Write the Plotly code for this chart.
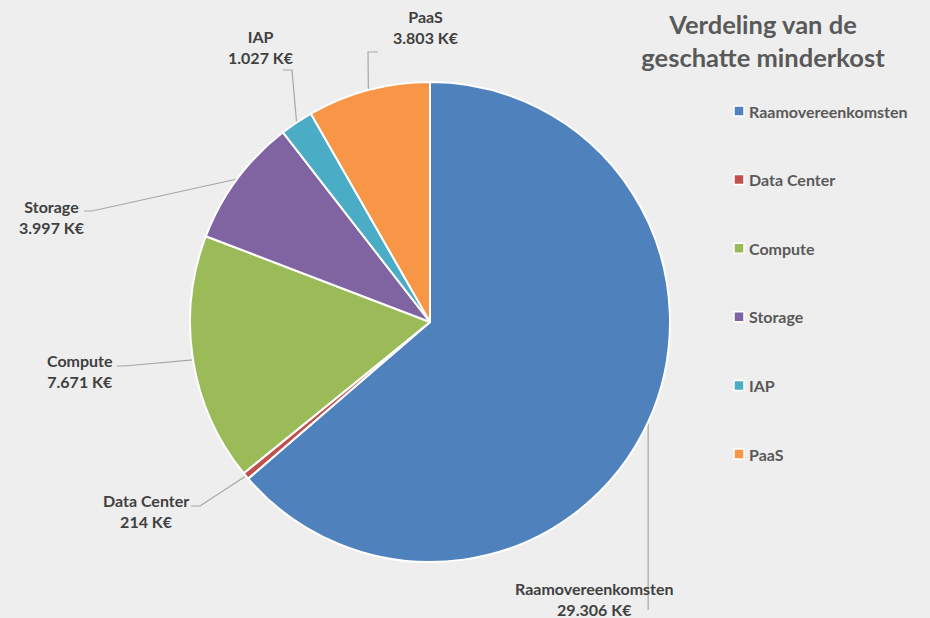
import math
import plotly.graph_objects as go

# Estimated savings per category (K€)
categories = ["Raamovereenkomsten", "Data Center", "Compute", "Storage", "IAP", "PaaS"]
values = [29306, 214, 7671, 3997, 1027, 3803]
colors = ["#4F81BD", "#C0504D", "#9BBB59", "#8064A2", "#4BACC6", "#F79646"]

W, H = 930, 618
CX, CY, R = 430, 322, 240          # pie centre and radius in pixels
BG = "#EEEEEE"
FONT = "Lato"


def px(x, y):
    """Pixel position -> paper coordinates."""
    return x / W, 1 - y / H


def fmt(v):
    return f"{v:,}".replace(",", ".") + " K€"


# Label placement: (label centre), (leader elbow), (leader end) in pixels
label_layout = {
    "Raamovereenkomsten": {"text": (594, 599), "elbow": None, "end": ("x", 610)},
    "Data Center": {"text": (146, 511), "elbow": (200, 506), "end": (191, 506)},
    "Compute": {"text": (80, 371), "elbow": (124, 366), "end": (117, 366)},
    "Storage": {"text": (52, 217), "elbow": (92, 211), "end": (84, 211)},
    "IAP": {"text": (261, 47), "elbow": (292, 70), "end": (283, 70)},
    "PaaS": {"text": (426, 27), "elbow": (368, 52), "end": (378, 52)},
}

fig = go.Figure(
    go.Pie(
        labels=categories,
        values=values,
        marker=dict(colors=colors, line=dict(color="white", width=2)),
        sort=False,
        direction="clockwise",
        rotation=0,
        textinfo="none",
        hoverinfo="label+value",
        showlegend=False,
        domain=dict(
            x=[(CX - R) / W, (CX + R) / W],
            y=[(H - CY - R) / H, (H - CY + R) / H],
        ),
    )
)

shapes = []
annotations = []
total = sum(values)
cum = 0
for name, v in zip(categories, values):
    mid = (cum + v / 2) / total * 2 * math.pi
    cum += v
    sx = CX + R * math.sin(mid)
    sy = CY - R * math.cos(mid)
    spec = label_layout[name]
    pts = [(sx, sy)]
    if spec["elbow"] is not None:
        pts.append(spec["elbow"])
    ex, ey = spec["end"]
    if ex == "x":
        ex = sx
    pts.append((ex, ey))
    path = ""
    for i, (x, y) in enumerate(pts):
        X, Y = px(x, y)
        path += ("M" if i == 0 else "L") + f" {X} {Y} "
    shapes.append(dict(type="path", xref="paper", yref="paper", path=path,
                       line=dict(color="#A6A6A6", width=1.2), layer="below"))
    tx, ty = px(*spec["text"])
    annotations.append(dict(
        x=tx, y=ty, xref="paper", yref="paper", showarrow=False,
        xanchor="center", yanchor="middle", align="center",
        text=f"<b>{name}<br>{fmt(v)}</b>",
        font=dict(family=FONT, size=16, color="#404040"),
    ))

# Legend entries on the right
LEG_X, LEG_Y0, LEG_DY = 739, 111, 68.6
for i, (name, c) in enumerate(zip(categories, colors)):
    y = LEG_Y0 + i * LEG_DY
    x0, y0 = px(LEG_X - 5, y - 5)
    x1, y1 = px(LEG_X + 5, y + 5)
    shapes.append(dict(type="rect", xref="paper", yref="paper",
                       x0=x0, x1=x1, y0=y0, y1=y1,
                       fillcolor=c, line=dict(color="white", width=1.5)))
    lx, ly = px(LEG_X + 8, y)
    annotations.append(dict(
        x=lx, y=ly, xref="paper", yref="paper", showarrow=False,
        xanchor="left", yanchor="middle",
        text=f"<b>{name}</b>",
        font=dict(family=FONT, size=16, color="#595959"),
    ))

tx, ty = px(763, 34)
fig.update_layout(
    width=W, height=H,
    margin=dict(l=0, r=0, t=0, b=0),
    paper_bgcolor=BG, plot_bgcolor=BG,
    title=dict(text="<b>Verdeling van de<br>geschatte minderkost</b>",
               x=tx, y=ty, xanchor="center", yanchor="middle",
               xref="paper", yref="paper",
               font=dict(family=FONT, size=25.5, color="#595959")),
    shapes=shapes,
    annotations=annotations,
)

fig.write_html("out.html")
